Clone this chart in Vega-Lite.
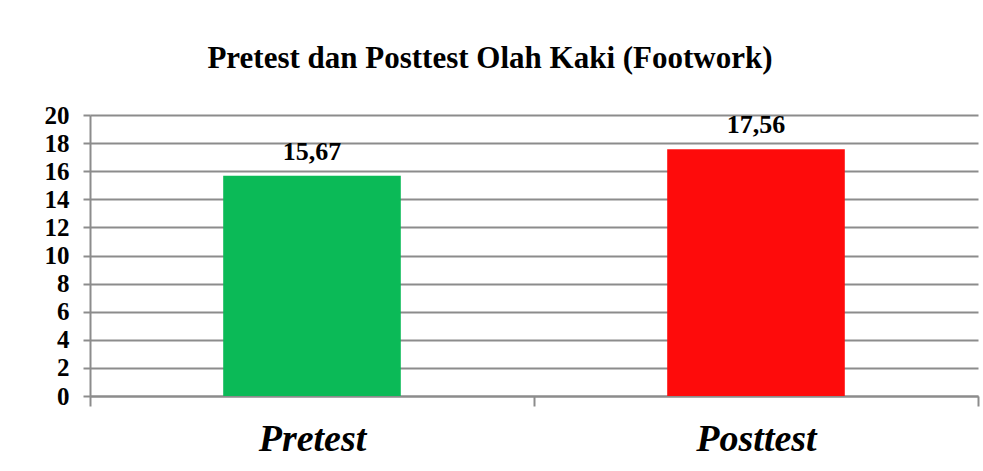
{
  "$schema": "https://vega.github.io/schema/vega-lite/v6.json",
  "width": 888,
  "height": 281,
  "autosize": {"type": "none"},
  "padding": {"left": 90, "top": 115, "right": 5, "bottom": 75},
  "background": "white",
  "title": {
    "text": "Pretest dan Posttest Olah Kaki (Footwork)",
    "font": "Liberation Serif, Times New Roman, serif",
    "fontSize": 31,
    "fontWeight": "bold",
    "color": "black",
    "anchor": "middle",
    "dx": -44,
    "offset": 28
  },
  "data": {
    "values": [
      {"test": "Pretest", "nilai": 15.67, "label": "15,67"},
      {"test": "Posttest", "nilai": 17.56, "label": "17,56"}
    ]
  },
  "encoding": {
    "x": {
      "field": "test",
      "type": "nominal",
      "sort": ["Pretest", "Posttest"],
      "scale": {"paddingInner": 0, "paddingOuter": 0},
      "axis": {
        "title": null,
        "labelAngle": 0,
        "labelFont": "Liberation Serif, Times New Roman, serif",
        "labelFontSize": 38,
        "labelFontStyle": "italic",
        "labelFontWeight": "bold",
        "labelColor": "black",
        "labelPadding": 14,
        "tickBand": "extent",
        "tickSize": 10,
        "tickColor": "#8c8c8c",
        "tickWidth": 2,
        "domainColor": "#8c8c8c",
        "domainWidth": 2,
        "grid": false
      }
    },
    "y": {
      "field": "nilai",
      "type": "quantitative",
      "scale": {"domain": [0, 20]},
      "axis": {
        "title": null,
        "values": [0, 2, 4, 6, 8, 10, 12, 14, 16, 18, 20],
        "labelFont": "Liberation Serif, Times New Roman, serif",
        "labelFontSize": 25,
        "labelFontWeight": "bold",
        "labelColor": "black",
        "labelPadding": 14,
        "tickSize": 7,
        "tickColor": "#8c8c8c",
        "tickWidth": 2,
        "domainColor": "#8c8c8c",
        "domainWidth": 2,
        "grid": true,
        "gridColor": "#8c8c8c",
        "gridWidth": 2
      }
    }
  },
  "layer": [
    {
      "mark": {"type": "bar", "width": {"band": 0.4}},
      "encoding": {
        "color": {
          "field": "test",
          "type": "nominal",
          "scale": {"domain": ["Pretest", "Posttest"], "range": ["#0bba57", "#fe0b0b"]},
          "legend": null
        }
      }
    },
    {
      "mark": {
        "type": "text",
        "font": "Liberation Serif, Times New Roman, serif",
        "fontSize": 26,
        "fontWeight": "bold",
        "color": "black",
        "baseline": "bottom",
        "dy": -11
      },
      "encoding": {"text": {"field": "label"}}
    }
  ],
  "config": {"view": {"stroke": null}}
}
